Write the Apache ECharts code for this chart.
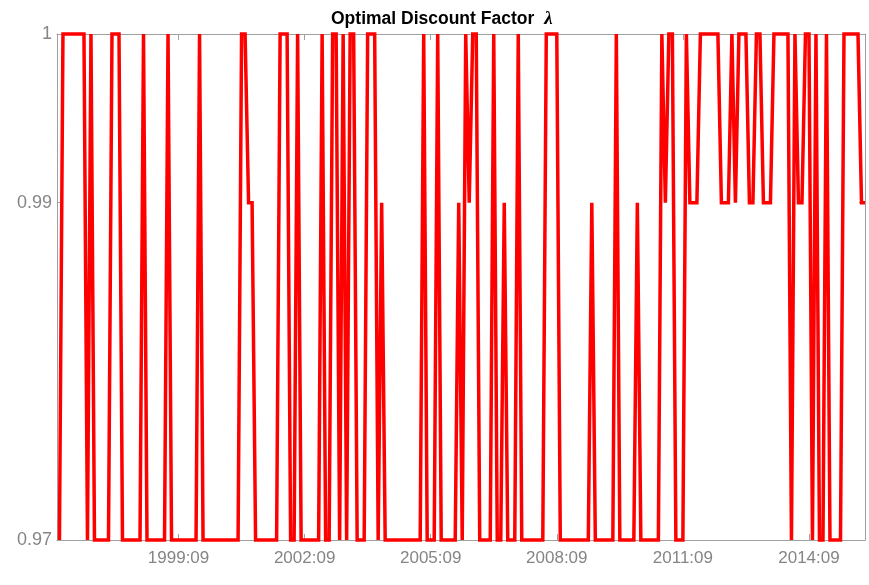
<!DOCTYPE html>
<html>
<head>
<meta charset="utf-8">
<script src="https://cdn.jsdelivr.net/npm/echarts@6/dist/echarts.min.js"></script>
<style>
html,body{margin:0;padding:0;background:#fff;}
#chart{width:869px;height:585px;}
</style>
</head>
<body>
<div id="chart"></div>
<script>
// Monthly series starting 1996:11
const startYear = 1996, startMonth = 11;
const lambdaValues = [
  0.97, 1,
  1,1,1,1,1,1,0.97,1,0.97,0.97,0.97,0.97,
  0.97,1,1,1,0.97,0.97,0.97,0.97,0.97,0.97,1,0.97,
  0.97,0.97,0.97,0.97,0.97,1,0.97,0.97,0.97,0.97,0.97,0.97,
  0.97,0.97,1,0.97,0.97,0.97,0.97,0.97,0.97,0.97,0.97,0.97,
  0.97,0.97,1,1,0.99,0.99,0.97,0.97,0.97,0.97,0.97,0.97,
  0.97,1,1,1,0.97,0.97,1,0.97,0.97,0.97,0.97,0.97,
  0.97,1,0.97,0.97,1,1,0.97,1,0.97,1,1,0.97,
  0.97,0.97,1,1,1,0.97,0.99,0.97,0.97,0.97,0.97,0.97,
  0.97,0.97,0.97,0.97,0.97,0.97,1,0.97,0.97,0.97,1,0.97,
  0.97,0.97,0.97,0.97,0.99,0.97,1,0.99,1,1,0.97,0.97,
  0.97,0.97,1,0.97,0.97,0.99,0.97,0.97,0.97,1,0.97,0.97,
  0.97,0.97,0.97,0.97,0.97,1,1,1,1,0.97,0.97,0.97,
  0.97,0.97,0.97,0.97,0.97,0.97,0.99,0.97,0.97,0.97,0.97,0.97,
  0.97,1,0.97,0.97,0.97,0.97,0.97,0.99,0.97,0.97,0.97,0.97,
  0.97,0.97,1,0.99,1,1,0.97,0.97,0.97,1,0.99,0.99,
  0.99,1,1,1,1,1,1,0.99,0.99,0.99,1,0.99,
  1,1,1,0.99,0.99,1,1,0.99,0.99,0.99,1,1,
  1,1,1,0.97,1,0.99,0.99,1,1,0.97,1,0.97,
  0.97,1,0.97,0.97,0.97,0.97,1,1,1,1,1,0.99,
  0.99
];
const xTickLabels = ['1999:09','2002:09','2005:09','2008:09','2011:09','2014:09'];
const yTickValues = [0.97, 0.99, 1];

// month labels for each index
const dates = lambdaValues.map((v, i) => {
  const m0 = (startMonth - 1) + i;
  const y = startYear + Math.floor(m0 / 12);
  const m = (m0 % 12) + 1;
  return y + ':' + (m < 10 ? '0' + m : '' + m);
});
const xTickIdx = xTickLabels.map(l => dates.indexOf(l));
const seriesData = lambdaValues.map((v, i) => [i, v]);

const axisGray = '#a0a0a0';
const labelGray = '#858585';

const chart = echarts.init(document.getElementById('chart'));
chart.setOption({
  animation: false,
  backgroundColor: '#fff',
  title: {
    text: '{b|Optimal Discount Factor}  {l|λ}',
    left: 326,
    top: 5,
    textStyle: {
      rich: {
        b: {fontFamily: 'Liberation Sans', fontWeight: 'bold', fontSize: 17.5, color: '#000'},
        l: {fontFamily: 'Liberation Serif', fontStyle: 'italic', fontWeight: 'bold', fontSize: 19, color: '#000'}
      }
    }
  },
  grid: {left: 57, right: 4, top: 34, bottom: 45},
  xAxis: [{
    type: 'value',
    min: -0.7, max: 230,
    position: 'bottom',
    splitLine: {show: false},
    axisLine: {show: true, lineStyle: {color: axisGray, width: 1}},
    axisTick: {show: true, inside: true, length: 6, customValues: xTickIdx, lineStyle: {color: axisGray}},
    axisLabel: {
      show: true, customValues: xTickIdx, margin: 10,
      color: labelGray, fontFamily: 'Liberation Sans', fontSize: 17,
      formatter: v => dates[Math.round(v)]
    }
  }, {
    type: 'value',
    min: -0.7, max: 230,
    position: 'top',
    splitLine: {show: false},
    axisLine: {show: true, onZero: false, lineStyle: {color: axisGray, width: 1}},
    axisTick: {show: true, inside: true, length: 6, customValues: xTickIdx, lineStyle: {color: axisGray}},
    axisLabel: {show: false}
  }],
  yAxis: [{
    type: 'value',
    min: 0.97, max: 1,
    position: 'left',
    splitLine: {show: false},
    axisLine: {show: true, onZero: false, lineStyle: {color: axisGray, width: 1}},
    axisTick: {show: true, inside: true, length: 6, customValues: yTickValues, lineStyle: {color: axisGray}},
    axisLabel: {
      show: true, customValues: yTickValues, margin: 5,
      color: labelGray, fontFamily: 'Liberation Sans', fontSize: 18,
      formatter: v => String(Math.round(v * 100) / 100)
    }
  }, {
    type: 'value',
    min: 0.97, max: 1,
    position: 'right',
    splitLine: {show: false},
    axisLine: {show: true, onZero: false, lineStyle: {color: axisGray, width: 1}},
    axisTick: {show: true, inside: true, length: 6, customValues: yTickValues, lineStyle: {color: axisGray}},
    axisLabel: {show: false}
  }],
  series: [{
    type: 'line',
    data: seriesData,
    xAxisIndex: 0,
    yAxisIndex: 0,
    showSymbol: false,
    symbol: 'none',
    clip: false,
    lineStyle: {color: '#ff0000', width: 3.5, join: 'miter', miterLimit: 4},
    itemStyle: {color: '#ff0000'}
  }]
});
</script>
</body>
</html>
